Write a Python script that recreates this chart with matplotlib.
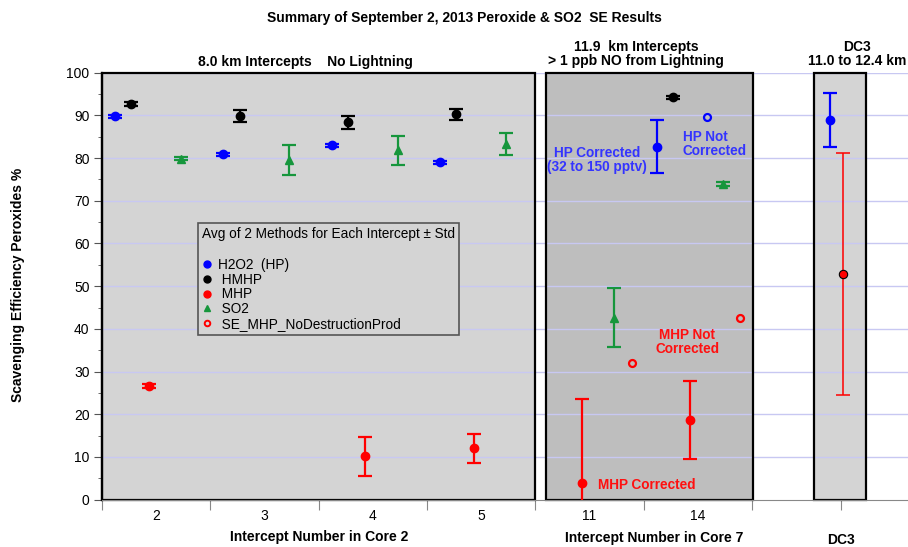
import numpy as np
import matplotlib
matplotlib.use("Agg")
import matplotlib.pyplot as plt
from matplotlib.patches import Rectangle
from matplotlib.lines import Line2D

plt.rcParams['font.family'] = ['Liberation Sans', 'DejaVu Sans']

# ---- data ----
core2_labels = ["2", "3", "4", "5"]
core7_labels = ["11", "14"]
intercepts = core2_labels + core7_labels

hp = [89.8, 80.9, 83.0, 79.0, np.nan, 82.7]
hp_err = [0.3, 0.3, 0.3, 0.3, np.nan, 6.3]
hmhp = [92.7, 89.8, 88.4, 90.3, np.nan, 94.2]
hmhp_err = [0.4, 1.4, 1.5, 1.3, np.nan, 0.4]
mhp = [26.6, np.nan, 10.2, 12.0, 3.8, 18.6]
mhp_err = [0.5, np.nan, 4.6, 3.5, 19.9, 9.1]
so2 = [79.9, 79.5, 81.8, 83.3, 42.6, 73.9]
so2_err = [0.4, 3.5, 3.3, 2.5, 6.9, 0.5]
hp_not_corrected = [np.nan, np.nan, np.nan, np.nan, np.nan, 89.6]
mhp_no_destr = [np.nan, np.nan, np.nan, np.nan, 31.9, 42.5]

dc3_hp, dc3_hp_err = 88.9, 6.4
dc3_mhp, dc3_mhp_err = 52.8, 28.3

# ---- layout ----
W, H = 908, 547
fig = plt.figure(figsize=(W / 100, H / 100), dpi=100)
ax = fig.add_axes([102 / W, (H - 499.7) / H, 806 / W, 427 / H])
slot = np.arange(len(intercepts))
dc3_x = 6.82

ax.set_xlim(0, 7.44)
ax.set_ylim(0, 100)

blue, red, green = "#0000ff", "#ff0000", "#16963c"
grid_c = "#c8c8f2"

for y in range(10, 101, 10):
    ax.axhline(y, color=grid_c, lw=1, zorder=1)

# shaded panels
for x0, x1, fc in [(0, 4, "#d4d4d4"), (4.10, 6.01, "#bebebe"), (6.57, 7.05, "#d4d4d4")]:
    ax.add_patch(Rectangle((x0, 0), x1 - x0, 100, fc=fc, ec="none", zorder=0.5))
    ax.add_patch(Rectangle((x0, 0), x1 - x0, 100, fc="none", ec="black", lw=1.6,
                           zorder=2, clip_on=False))

eb = dict(ls="none", capsize=5, capthick=1.6, elinewidth=1.6, ms=6, zorder=4)
ax.errorbar(slot + 0.12, hp, yerr=hp_err, fmt="o", color=blue, **eb)
ax.errorbar(slot + 0.27, hmhp, yerr=hmhp_err, fmt="o", color="black", **eb)
ax.errorbar(slot + 0.43, mhp, yerr=mhp_err, fmt="o", color=red, **eb)
ax.errorbar(slot + 0.73, so2, yerr=so2_err, fmt="^", color=green, **eb)
ax.plot(slot + 0.58, hp_not_corrected, "o", mfc="none", mec=blue, mew=1.6, ms=5, zorder=4)
ax.plot(slot + 0.89, mhp_no_destr, "o", mfc="none", mec=red, mew=1.6, ms=5, zorder=4)

ax.errorbar(dc3_x - 0.10, dc3_hp, yerr=dc3_hp_err, fmt="o", color=blue, **eb)
ax.errorbar(dc3_x + 0.02, dc3_mhp, yerr=dc3_mhp_err, fmt="none", ecolor=red,
            capsize=5, capthick=1.1, elinewidth=1.1, zorder=4)
ax.plot(dc3_x + 0.02, dc3_mhp, "o", mfc=red, mec="black", mew=0.8, ms=6, zorder=5)

# annotations
tk = dict(fontsize=9.8, fontweight="bold", linespacing=1.0)
ax.text(4.57, 79.6, "HP Corrected\n(32 to 150 pptv)", color="#3434ff", ha="center",
        va="center", **tk)
ax.text(5.36, 83.3, "HP Not\nCorrected", color="#3434ff", ha="left", va="center", **tk)
ax.text(5.40, 36.9, "MHP Not\nCorrected", color="#ff1010", ha="center", va="center", **tk)
ax.text(4.58, 3.4, "MHP Corrected", color="#ff1010", ha="left", va="center", **tk)

# axes styling
for s in ["top", "right"]:
    ax.spines[s].set_visible(False)
ax.spines["bottom"].set_color("#888888")
ax.spines["left"].set_color("black")
ax.spines["left"].set_linewidth(1.6)

ax.set_yticks(range(0, 101, 10))
ax.set_yticks(range(5, 100, 10), minor=True)
ax.tick_params(axis="y", which="major", length=6, color="#555555", labelsize=10, pad=3)
ax.tick_params(axis="y", which="minor", length=3, color="#555555")

ax.set_xticks([0, 1, 2, 3, 4, 5, 6, dc3_x])
ax.set_xticklabels([])
ax.set_xticks(slot + 0.5, minor=True)
ax.set_xticklabels(intercepts, minor=True)
ax.tick_params(axis="x", which="major", length=7, color="#888888")
ax.tick_params(axis="x", which="minor", length=0, labelsize=10, pad=7)

# legend
handles = [
    Line2D([], [], ls="none", marker="o", color=blue, ms=5),
    Line2D([], [], ls="none", marker="o", color="black", ms=5),
    Line2D([], [], ls="none", marker="o", color=red, ms=5),
    Line2D([], [], ls="none", marker="^", color=green, ms=5),
    Line2D([], [], ls="none", marker="o", mfc="none", mec=red, mew=1.4, ms=4),
]
labels = ["H2O2  (HP)", " HMHP", " MHP", " SO2", " SE_MHP_NoDestructionProd"]
leg = ax.legend(handles, labels, title="Avg of 2 Methods for Each Intercept \u00b1 Std\n",
                loc="upper left", bbox_to_anchor=(0.1185, 0.6487), borderaxespad=0,
                fontsize=9.8, title_fontsize=9.8, frameon=True, fancybox=False,
                framealpha=1, facecolor="#d4d4d4", edgecolor="#555555",
                handlelength=0.8, handletextpad=0.4, labelspacing=0.06,
                borderpad=0.3, alignment="left")
leg.get_frame().set_linewidth(1.2)
leg.set_zorder(5)

# headers and axis titles
def ftext(px, py, s, **kw):
    fig.text(px / W, 1 - py / H, s, ha="center", va="center", fontweight="bold", **kw)

ftext(464, 18, "Summary of September 2, 2013 Peroxide & SO2  SE Results", fontsize=10)
ftext(305, 62, "8.0 km Intercepts    No Lightning", fontsize=10)
ftext(636, 54, "11.9  km Intercepts\n> 1 ppb NO from Lightning", fontsize=10, linespacing=1.0)
ftext(857, 54, "DC3\n11.0 to 12.4 km", fontsize=10, linespacing=1.0)
ftext(319, 537, "Intercept Number in Core 2", fontsize=10)
ftext(654, 538, "Intercept Number in Core 7", fontsize=10)
ftext(841, 540, "DC3", fontsize=10)
ftext(18, 285, "Scavenging Efficiency Peroxides %", fontsize=10, rotation=90)

fig.savefig("out.png", dpi=100)
